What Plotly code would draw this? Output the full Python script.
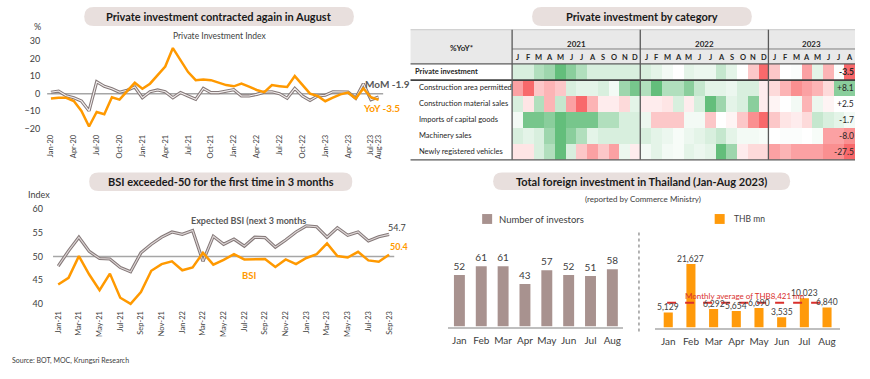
import plotly.graph_objects as go
import pandas as pd

W, H = 870, 379
FONT = "Lato"

# ---------------- data ----------------
pi_months = list(pd.date_range("2020-01-01", "2023-08-01", freq="MS").strftime("%b-%y"))
pi_yoy = [-2.8, -2.3, -2.3, -4.2, -9.8, -18.7, -10.4, -11.7, -2.0, -3.4, 1.5, 6.2,
          2.8, 5.7, 10.6, 15.5, 26.0, 19.4, 12.3, 7.7, 8.1, 7.7, 6.4, 4.9,
          4.2, 5.7, 4.0, 2.1, 0.9, 4.9, 4.3, 3.8, 10.0, 5.0, 0.0, -1.3,
          -4.3, -2.3, -0.4, 0.6, -2.7, 3.0, -2.0, -3.5]
pi_mom = [0.8, 1.5, -1.2, -2.3, -4.2, -9.8, 6.8, 4.2, 2.8, 0.8, 2.0, 3.8,
          -2.3, 1.1, 2.1, 1.1, -2.3, 0.6, -1.3, -3.2, 3.0, 0.6, 0.6, 1.5,
          2.3, -1.3, -1.3, -0.4, 0.9, 1.1, 0.0, -2.6, 3.0, -1.3, -3.8, -1.3,
          -0.9, 1.1, 0.9, 0.9, -2.6, 5.7, -3.4, -1.9]
pi_ticks = list(range(0, 43, 3)) + [43]

bsi_months = list(pd.date_range("2021-01-01", "2023-09-01", freq="MS").strftime("%b-%y"))
bsi = [44.1, 45.5, 50.1, 46.2, 42.9, 46.4, 41.3, 40.0, 42.5, 47.0, 48.4, 49.0,
       47.1, 47.7, 50.8, 48.3, 49.3, 50.5, 49.4, 49.5, 49.5, 47.8, 49.4, 48.4,
       49.7, 50.5, 52.8, 50.1, 49.8, 51.0, 49.2, 48.9, 50.4]
bsi_exp = [48.0, 51.2, 54.1, 51.1, 49.6, 49.5, 47.7, 46.8, 50.8, 52.6, 54.1, 55.2,
           54.7, 55.5, 49.0, 54.3, 52.6, 53.7, 52.2, 54.1, 54.0, 52.0, 53.5, 55.2,
           56.5, 56.3, 54.1, 56.1, 54.5, 55.2, 53.3, 54.2, 54.7]
bsi_ticks = list(range(0, 33, 2))

hm_years = ["2021", "2022", "2023"]
hm_months = ["J", "F", "M", "A", "M", "J", "J", "A", "S", "O", "N", "D"] * 2 + ["J", "F", "M", "A", "M", "J", "J", "A"]
hm_rows = ["Private investment", "Construction area permitted", "Construction material sales",
           "Imports of capital goods", "Machinery sales", "Newly registered vehicles"]
hm_latest = ["-3.5", "+8.1", "+2.5", "-1.7", "-8.0", "-27.5"]
# colour intensity (-4 strongest red ... +4 strongest green)
hm_private = [1, 1, 2, 2.5, 4, 3, 2, 1, 1, 1, 1, 1,
              1, 0.7, 0.3, 0, 0.7, 0.5, 0.5, 1.5, 0.7, 0, -1.5, -4,
              -1.5, 0, 0.1, -2.5, 0.7, -2, 0.1, -4]
hm_area = [-2.5, -4, -1.5, -2, -1.5, 1, 0.7, 0.7, 1, 0.3, 2.5, 3.5,
           2, 4, 2, 2, 3, 1.5, 0.7, 0.7, 0.5, 1, 1, -0.5,
           -1, -2, -3, -2.5, -2, -1, 3, 3]
hm_material = [1, -0.7, 2, -2, 1.5, -2.5, -4, -2, -0.5, -0.5, -1, 0.7,
               -0.5, -0.5, -0.7, 1, -0.5, 1, 4, 2.5, 0.7, 1, 3, -0.5,
               -0.3, 0, 0.3, -2, 0.5, -0.3, 0, 0]
hm_imports = [0.3, 3.5, 3.5, 3, 4, 3.5, 3.5, 3.5, 2, 2, 1, 1,
              0.5, -1.5, -1.5, -1.5, 0.3, 0.3, -1.5, 0, -0.3, -1.5, -3, -4,
              -1.5, -0.7, -0.5, -1, 1.5, 1, 0.7, 0.3]
hm_machinery = [1, 0.7, 1, 2.5, 4, 3, 2, 0.7, 1, 1, 1, 1,
                1, 0.7, 0.5, 0.2, 0.5, 0.7, 1, 1.5, 0.7, 0.3, 0.3, 0.2,
                0, 0.1, 0.1, 0, 0.2, -2.5, -2.5, -3]
hm_vehicles = [-0.7, -0.7, 1, 2, 4, 1, -1.5, -2.5, -1.5, -2.5, 0.5, -0.5,
               0.3, 0.7, 0.3, 0.2, 0.7, 0.5, 0.7, 4, 2.5, -0.5, -1, -1,
               -2.5, -2, -2.5, -2.5, -2.5, -3, -3, -4]

fdi_months = ["Jan", "Feb", "Mar", "Apr", "May", "Jun", "Jul", "Aug"]
fdi_investors = [52, 61, 61, 43, 57, 52, 51, 58]
fdi_thb = [5129, 21627, 6292, 5654, 6690, 3535, 10023, 6840]
fdi_avg = 8421

# ---------------- helpers ----------------
def px(x):
    return x / W

def py(y):
    return 1 - y / H

ORANGE = "#ff9900"
GRAYLINE = "#857979"
TXT = "#404040"
shapes, ann = [], []

def pill(x0, y0, x1, y1, text):
    r = (y1 - y0) / 2
    def P(a, b):
        return f"{px(a):.5f},{py(b):.5f}"
    path = (f"M{P(x0 + r, y0)} L{P(x1 - r, y0)} Q{P(x1, y0)} {P(x1, y0 + r)} "
            f"Q{P(x1, y1)} {P(x1 - r, y1)} L{P(x0 + r, y1)} Q{P(x0, y1)} {P(x0, y0 + r)} "
            f"Q{P(x0, y0)} {P(x0 + r, y0)} Z")
    shapes.append(dict(type="path", path=path, xref="paper", yref="paper",
                       fillcolor="#e8dfdd", line=dict(width=0), layer="below"))
    ann.append(dict(text=f"<b>{text}</b>", x=px((x0 + x1) / 2), y=py((y0 + y1) / 2),
                    xref="paper", yref="paper", showarrow=False, xanchor="center", yanchor="middle",
                    font=dict(size=11, color="#1a1a1a", family=FONT)))

def text(t, x, y, size=9, color=TXT, xanchor="center", bold=False):
    ann.append(dict(text=f"<b>{t}</b>" if bold else t, x=px(x), y=py(y),
                    xref="paper", yref="paper", showarrow=False, xanchor=xanchor, yanchor="middle",
                    font=dict(size=size, color=color, family=FONT)))

def line(x0, y0, x1, y1, color="#404040", width=1, dash="solid"):
    shapes.append(dict(type="line", x0=px(x0), y0=py(y0), x1=px(x1), y1=py(y1),
                       xref="paper", yref="paper", line=dict(color=color, width=width, dash=dash)))

fig = go.Figure()

# ---------------- panel 1: private investment index ----------------
xi = list(range(len(pi_months)))
fig.add_trace(go.Scatter(x=xi, y=pi_mom, mode="lines", line=dict(color=GRAYLINE, width=3.2),
                         xaxis="x", yaxis="y", showlegend=False, hoverinfo="skip"))
fig.add_trace(go.Scatter(x=xi, y=pi_mom, mode="lines", line=dict(color="#f2eeee", width=1.1),
                         xaxis="x", yaxis="y", showlegend=False, name="MoM"))
fig.add_trace(go.Scatter(x=xi, y=pi_yoy, mode="lines", line=dict(color=ORANGE, width=2.5),
                         xaxis="x", yaxis="y", showlegend=False, name="YoY"))
shapes.append(dict(type="line", xref="x domain", yref="y", x0=0, x1=1, y0=0, y1=0,
                   line=dict(color="#a6a6a6", width=1.5), layer="below"))

# ---------------- panel 2: BSI ----------------
bi = list(range(len(bsi_months)))
fig.add_trace(go.Scatter(x=bi, y=bsi_exp, mode="lines", line=dict(color=GRAYLINE, width=3.2),
                         xaxis="x2", yaxis="y2", showlegend=False, hoverinfo="skip"))
fig.add_trace(go.Scatter(x=bi, y=bsi_exp, mode="lines", line=dict(color="#ddd6d6", width=1.1),
                         xaxis="x2", yaxis="y2", showlegend=False, name="Expected BSI"))
fig.add_trace(go.Scatter(x=bi, y=bsi, mode="lines", line=dict(color=ORANGE, width=2.5),
                         xaxis="x2", yaxis="y2", showlegend=False, name="BSI"))
shapes.append(dict(type="line", xref="x2 domain", yref="y2", x0=0, x1=1, y0=50, y1=50,
                   line=dict(color="#a6a6a6", width=1.5), layer="below"))

# ---------------- panel 3: heatmap ----------------
z = [hm_private, hm_area, hm_material, hm_imports, hm_machinery, hm_vehicles]
fig.add_trace(go.Heatmap(z=z, x=list(range(len(hm_months))), y=list(range(len(hm_rows))),
                         colorscale=[[0, "#f8696b"], [0.5, "#ffffff"], [1, "#63be7b"]],
                         zmin=-4, zmax=4, showscale=False, xaxis="x3", yaxis="y3", hoverinfo="skip"))

shapes.append(dict(type="rect", x0=px(410), x1=px(855), y0=py(28), y1=py(62), xref="paper", yref="paper",
                   fillcolor="#e9e9e9", line=dict(width=0), layer="below"))
text("%YoY*", 461, 46.5, size=8, color="#262626", bold=True)
for yr, cx in zip(hm_years, [575.8, 704.2, 811.5]):
    text(yr, cx, 42, size=8, color="#262626", bold=True)
for i, m in enumerate(hm_months):
    ann.append(dict(text=f"<b>{m}</b>", x=i, y=py(56.5), xref="x3", yref="paper", showarrow=False,
                    xanchor="center", yanchor="middle", font=dict(size=7.5, color="#262626", family=FONT)))
for r, name in enumerate(hm_rows):
    ann.append(dict(text=f"<b>{name}</b>" if r == 0 else name, x=px(412 if r == 0 else 416.5), y=r,
                    xref="paper", yref="y3", showarrow=False, xanchor="left", yanchor="middle",
                    font=dict(size=7.5, color="#262626", family=FONT)))
    ann.append(dict(text=f"<b>{hm_latest[r]}</b>" if r == 0 else hm_latest[r], x=px(855.5), y=r,
                    xref="paper", yref="y3", showarrow=False, xanchor="right", yanchor="middle",
                    font=dict(size=8.5, color="#262626", family=FONT)))
line(410, 28, 855, 28, color="#c8c8c8", width=1)
line(511.7, 47.5, 855, 47.5, color="#7f7f7f", width=1)
line(410, 62.5, 855, 62.5, color="#595959", width=1.2)
line(410, 79, 855, 79, color="#404040", width=1.8)
line(410, 159.5, 855, 159.5, color="#595959", width=1.2)
for xv in [511.7, 640, 768.3]:
    line(xv, 28, xv, 159.5, color="#595959", width=1.3)

# ---------------- panel 4: FDI bars ----------------
fig.add_trace(go.Bar(x=fdi_months, y=fdi_investors, marker=dict(color="#a8928f", line=dict(width=0)),
                     text=[str(v) for v in fdi_investors], textposition="outside", cliponaxis=False,
                     constraintext="none", textfont=dict(size=10, color=TXT, family=FONT),
                     width=0.5, xaxis="x4", yaxis="y4", showlegend=False, name="Number of investors"))
fig.add_trace(go.Bar(x=fdi_months, y=fdi_thb, marker=dict(color="#ff9a0a", line=dict(width=0)),
                     width=0.4, xaxis="x5", yaxis="y5", showlegend=False, name="THB mn"))
for m, v in zip(fdi_months, fdi_thb):
    ann.append(dict(text=f"{v:,}", x=m, y=v, xref="x5", yref="y5", showarrow=False,
                    xanchor="center", yanchor="middle", yshift=5,
                    font=dict(size=8.5, color=TXT, family=FONT)))
shapes.append(dict(type="line", xref="x5", yref="y5", x0=-0.05, x1=7.05, y0=fdi_avg, y1=fdi_avg,
                   line=dict(color="#d9302c", width=2, dash="dash")))
text("Monthly average of THB8,421 mn", 744.5, 297, size=8, color="#d9302c")
shapes.append(dict(type="rect", x0=px(481.7), x1=px(491.7), y0=py(214.3), y1=py(224.3), xref="paper",
                   yref="paper", fillcolor="#a8928f", line=dict(width=0)))
text("Number of investors", 497, 219.5, size=9.5, xanchor="left")
shapes.append(dict(type="rect", x0=px(714.5), x1=px(724.5), y0=py(214.3), y1=py(224.3), xref="paper",
                   yref="paper", fillcolor="#ff9a0a", line=dict(width=0)))
text("THB mn", 732, 219.5, size=8.5, xanchor="left")
line(638.7, 233, 638.7, 333, color="#8c8c8c", width=1.3, dash="dot")
text("(reported by Commerce Ministry)", 642.5, 199.5, size=8)

# ---------------- titles and labels ----------------
pill(83.3, 5, 353.3, 24.3, "Private investment contracted again in August")
pill(531.7, 5, 751.7, 24.3, "Private investment by category")
pill(88.3, 172.3, 351.7, 191, "BSI exceeded-50 for the first time in 3 months")
pill(492.7, 172.3, 790, 190, "Total foreign investment in Thailand (Jan-Aug 2023)")

text("%", 37, 25, size=9)
text("Private Investment Index", 218.5, 34.5, size=8.5)
text("MoM -1.9", 362, 82.5, size=10, color="#595959", xanchor="left", bold=True)
text("YoY -3.5", 360, 107.5, size=10, color=ORANGE, xanchor="left", bold=True)
text("Index", 38.5, 194.5, size=9)
text("Expected BSI (next 3 months", 248, 220.7, size=9, color="#595959", bold=True)
text("BSI", 248, 276, size=9.5, color=ORANGE, bold=True)
text("54.7", 385, 227.5, size=9, color=TXT, xanchor="left")
text("50.4", 387.5, 247.5, size=9, color=ORANGE, xanchor="left", bold=True)
text("Source: BOT, MOC, Krungsri Research", 9, 362, size=7, xanchor="left")

# ---------------- axes ----------------
tickfont = dict(size=7.5, color=TXT, family=FONT)
fig.update_layout(
    width=W, height=H, margin=dict(l=0, r=0, t=0, b=0),
    paper_bgcolor="white", plot_bgcolor="rgba(0,0,0,0)",
    font=dict(family=FONT, color=TXT),
    shapes=shapes, annotations=ann,
    xaxis=dict(domain=[px(46.2), px(382.6)], range=[-0.5, 43.6], tickmode="array",
               tickvals=pi_ticks, ticktext=[pi_months[i] for i in pi_ticks], tickangle=-90,
               tickfont=tickfont, showgrid=False, zeroline=False, showline=False, ticks="",
               anchor="y"),
    yaxis=dict(domain=[py(131.7), py(35.9)], range=[-22, 32], tickvals=[-20, -10, 0, 10, 20, 30],
               tickfont=dict(size=9, color=TXT, family=FONT), showgrid=False, zeroline=False,
               showline=False, ticks="", ticklabelstandoff=6, anchor="x"),
    xaxis2=dict(domain=[px(52.1), px(393.7)], range=[-0.5, 32.5], tickmode="array",
                tickvals=bsi_ticks, ticktext=[bsi_months[i] for i in bsi_ticks], tickangle=-90,
                tickfont=tickfont, showgrid=False, zeroline=False, showline=False, ticks="",
                anchor="y2"),
    yaxis2=dict(domain=[py(309.9), py(204.7)], range=[39, 61], tickvals=[40, 45, 50, 55, 60],
                tickfont=dict(size=9, color=TXT, family=FONT), showgrid=False, zeroline=False,
                showline=False, ticks="", ticklabelstandoff=9, anchor="x2"),
    xaxis3=dict(domain=[px(511.7), px(855)], range=[-0.5, 31.5], visible=False, anchor="y3"),
    yaxis3=dict(domain=[py(159.5), py(62.5)], range=[5.5, -0.5], visible=False, anchor="x3"),
    xaxis4=dict(domain=[px(448), px(623)], showline=True, linecolor="#bfbfbf", linewidth=1.5,
                tickfont=dict(size=10, color=TXT, family=FONT), ticks="", showgrid=False,
                ticklabelstandoff=4, anchor="y4"),
    yaxis4=dict(domain=[py(328), py(248)], range=[0, 80], visible=False, anchor="x4"),
    xaxis5=dict(domain=[px(655), px(840)], showline=True, linecolor="#bfbfbf", linewidth=1.5,
                tickfont=dict(size=10, color=TXT, family=FONT), ticks="", showgrid=False,
                ticklabelstandoff=4, anchor="y5"),
    yaxis5=dict(domain=[py(329), py(249)], range=[0, 27000], visible=False, anchor="x5"),
)
fig.write_html("out.html", config={"displayModeBar": False},
               post_script="document.body.style.margin='0';document.body.style.padding='0';")
